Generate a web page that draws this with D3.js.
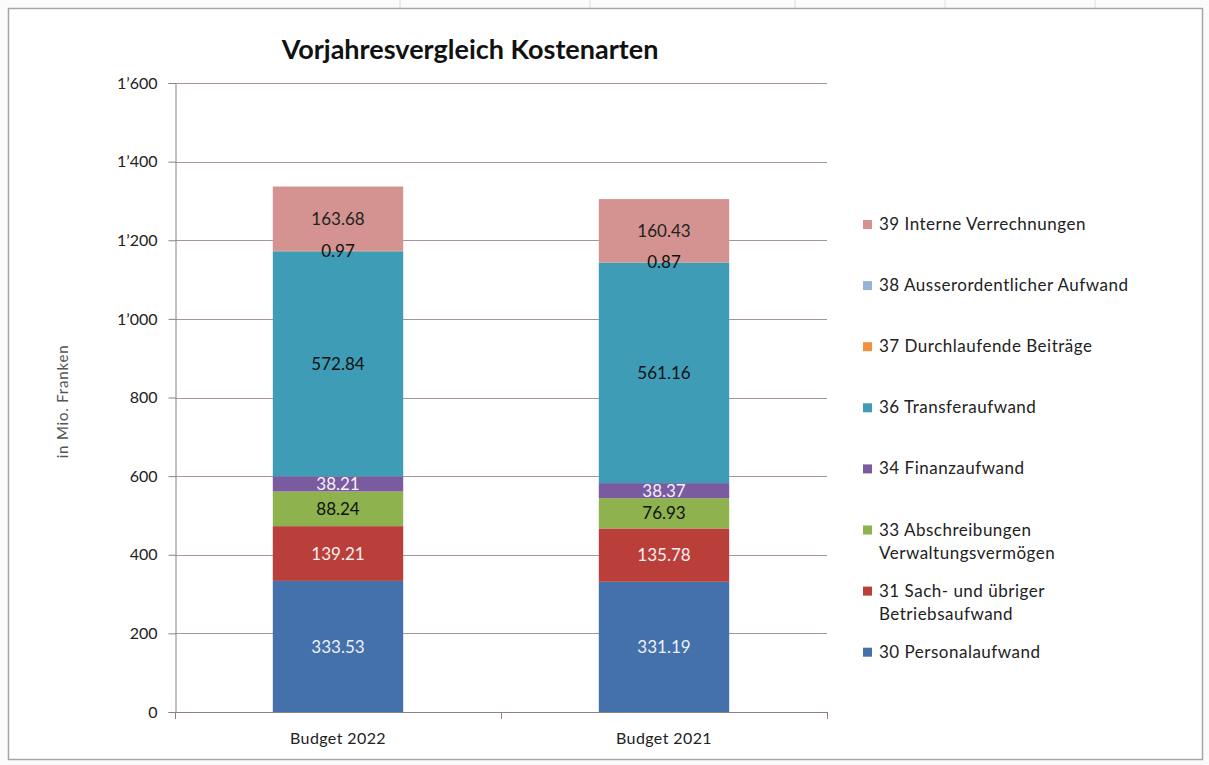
<!DOCTYPE html>
<html>
<head>
<meta charset="utf-8">
<script src="https://cdn.jsdelivr.net/npm/d3@7"></script>
<style>
  html, body { margin: 0; padding: 0; background: #ffffff; }
  svg { display: block; }
  text { font-family: Lato, "Open Sans", sans-serif; }
</style>
</head>
<body>
<svg id="chart" width="1209" height="765"></svg>
<script>
// ---- data ----
const categories = ["Budget 2022", "Budget 2021"];
const seriesNames = [
  "30 Personalaufwand",
  "31 Sach- und übriger Betriebsaufwand",
  "33 Abschreibungen Verwaltungsvermögen",
  "34 Finanzaufwand",
  "36 Transferaufwand",
  "37 Durchlaufende Beiträge",
  "38 Ausserordentlicher Aufwand",
  "39 Interne Verrechnungen"
];
const legendLines = [
  ["30 Personalaufwand"],
  ["31 Sach- und übriger", "Betriebsaufwand"],
  ["33 Abschreibungen", "Verwaltungsvermögen"],
  ["34 Finanzaufwand"],
  ["36 Transferaufwand"],
  ["37 Durchlaufende Beiträge"],
  ["38 Ausserordentlicher Aufwand"],
  ["39 Interne Verrechnungen"]
];
const personal    = [333.53, 331.19];
const sachaufwand = [139.21, 135.78];
const abschreib   = [88.24, 76.93];
const finanz      = [38.21, 38.37];
const transfer    = [572.84, 561.16];
const durchlauf   = [0.97, 0.87];
const ausserord   = [0, 0];
const intern      = [163.68, 160.43];
const seriesValues = [personal, sachaufwand, abschreib, finanz, transfer, durchlauf, ausserord, intern];
const yTicks = [0, 200, 400, 600, 800, 1000, 1200, 1400, 1600];
const yTickLabels = ["0", "200", "400", "600", "800", "1\u2019000", "1\u2019200", "1\u2019400", "1\u2019600"];

const colors = ["#4470AB", "#BA3F3B", "#8DB24E", "#7A5B9F", "#3E9CB6", "#F0913F", "#95B3D7", "#D49290"];
const labelColors = ["#eef0f8", "#f8f0f0", "#111", "#f4f0f8", "#111", "#111", "#111", "#222"];

(function draw() {
const svg = d3.select("#chart");
const W = 1209, H = 765;

svg.append("rect").attr("x", 0).attr("y", 0).attr("width", W).attr("height", H).attr("fill", "#fbfbfb");
[400, 590, 795, 945, 1095].forEach(xx => {
  svg.append("line").attr("x1", xx).attr("x2", xx).attr("y1", 0).attr("y2", 8)
    .attr("stroke", "#dcdcdc");
});
svg.append("rect").attr("x", 8.5).attr("y", 8.5).attr("width", 1194).attr("height", 751)
  .attr("fill", "#ffffff").attr("stroke", "#a6a6a6").attr("stroke-width", 1.5);

const pLeft = 175, pRight = 827, pTop = 83, pBottom = 712;

const x = d3.scaleBand().domain(categories).range([pLeft, pRight]).padding(0);
const y = d3.scaleLinear().domain([0, 1600]).range([pBottom, pTop]);

const axisColor = "#8f7f7f";

svg.append("g")
  .selectAll("line").data(yTicks.filter(t => t > 0)).join("line")
  .attr("x1", pLeft).attr("x2", pRight)
  .attr("y1", d => Math.round(y(d)) + 0.5).attr("y2", d => Math.round(y(d)) + 0.5)
  .attr("stroke", "#a89696").attr("stroke-width", 1);

const table = categories.map((c, i) => {
  const o = { category: c };
  seriesNames.forEach((s, j) => { o[s] = seriesValues[j][i]; });
  return o;
});
const stacked = d3.stack().keys(seriesNames)(table);

const barW = x.bandwidth() * 0.4;

const gBars = svg.append("g");
stacked.forEach((layer, j) => {
  gBars.selectAll(null).data(layer).join("rect")
    .attr("x", d => x(d.data.category) + (x.bandwidth() - barW) / 2)
    .attr("width", barW)
    .attr("y", d => y(d[1]))
    .attr("height", d => Math.max(0, y(d[0]) - y(d[1])))
    .attr("fill", colors[j]);
});

stacked.forEach((layer, j) => {
  svg.append("g").selectAll("text").data(layer.filter(d => d[1] - d[0] > 0)).join("text")
    .attr("x", d => x(d.data.category) + x.bandwidth() / 2)
    .attr("y", d => y((d[0] + d[1]) / 2))
    .attr("dy", "0.36em")
    .attr("text-anchor", "middle")
    .attr("font-size", 17)
    .attr("fill", labelColors[j])
    .text(d => (d[1] - d[0]).toFixed(2));
});

const yAxis = d3.axisLeft(y).tickValues(yTicks)
  .tickFormat((d, i) => yTickLabels[i]).tickSize(7).tickPadding(11);
const gy = svg.append("g").attr("transform", `translate(${pLeft + 0.5},0)`).call(yAxis);
gy.select(".domain").attr("stroke", axisColor);
gy.selectAll(".tick line").attr("stroke", axisColor);
gy.selectAll(".tick text").attr("font-size", 16).attr("fill", "#222")
  .attr("font-family", "Lato, 'Open Sans', sans-serif");

const xAxis = d3.axisBottom(x).tickSize(0).tickPadding(20);
const gx = svg.append("g").attr("transform", `translate(0,${pBottom + 0.5})`).call(xAxis);
gx.select(".domain").attr("stroke", axisColor).attr("d", `M${pLeft},0H${pRight}`);
gx.selectAll(".tick text").attr("font-size", 16).attr("letter-spacing", "0.4px").attr("fill", "#222")
  .attr("font-family", "Lato, 'Open Sans', sans-serif");
const boundaries = [pLeft, x(categories[1]), pRight];
svg.append("g").selectAll("line").data(boundaries).join("line")
  .attr("x1", d => Math.round(d) + 0.5).attr("x2", d => Math.round(d) + 0.5)
  .attr("y1", pBottom).attr("y2", pBottom + 7)
  .attr("stroke", axisColor);

svg.append("text").attr("x", 470).attr("y", 59).attr("text-anchor", "middle")
  .attr("font-size", 27).attr("font-weight", "bold").attr("fill", "#111")
  .text("Vorjahresvergleich Kostenarten");

svg.append("text")
  .attr("transform", `translate(68,${(pTop + pBottom) / 2 + 4}) rotate(-90)`)
  .attr("text-anchor", "middle").attr("font-size", 15).attr("letter-spacing", "0.8px").attr("fill", "#555")
  .text("in Mio. Franken");

const legendTop = 224, legendStep = 61.1;
const legendOrder = d3.range(seriesNames.length).reverse();
const gl = svg.append("g");
legendOrder.forEach((j, k) => {
  const ly = legendTop + k * legendStep;
  gl.append("rect").attr("x", 863).attr("y", ly - 4).attr("width", 9).attr("height", 9)
    .attr("fill", colors[j]);
  const t = gl.append("text").attr("x", 879).attr("y", ly + 6)
    .attr("font-size", 17).attr("letter-spacing", "0.5px").attr("fill", "#222");
  legendLines[j].forEach((line, li) => {
    t.append("tspan").attr("x", 879).attr("dy", li === 0 ? 0 : 23).text(line);
  });
});
})();
</script>
</body>
</html>
